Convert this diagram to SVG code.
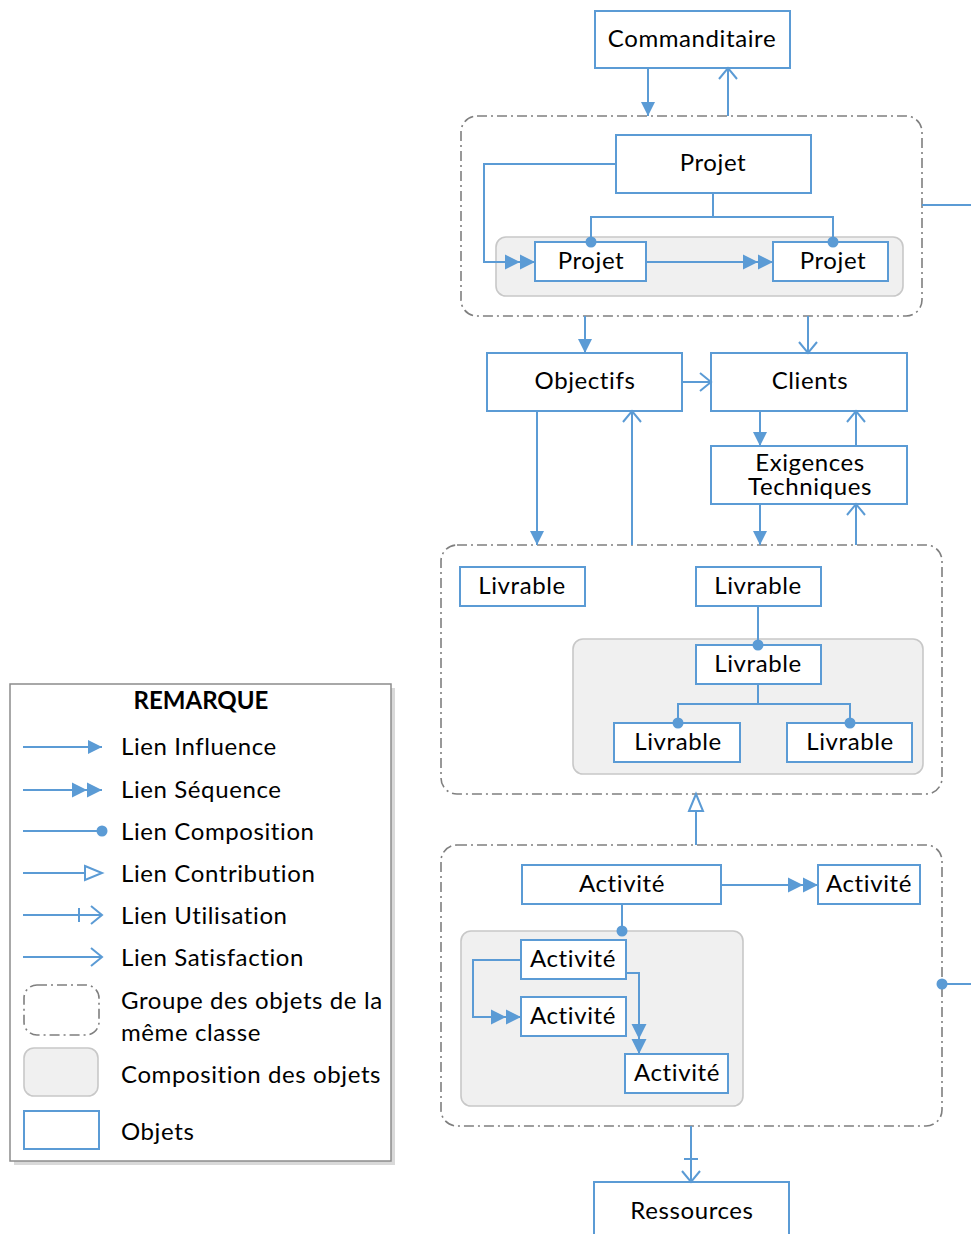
<svg xmlns="http://www.w3.org/2000/svg" width="971" height="1234" viewBox="0 0 971 1234">
<style>
.obj{fill:#fff;stroke:#5b9bd5;stroke-width:2}
.grp{fill:none;stroke:#7f7f7f;stroke-width:1.6;stroke-dasharray:10 4 2 4}
.cmp{fill:#f0f0f0;stroke:#c8c8c8;stroke-width:1.6}
.ln{fill:none;stroke:#5b9bd5;stroke-width:2}
text{font-family:Lato,"Open Sans",sans-serif;font-size:24px;letter-spacing:0.6px;fill:#000}
.c{text-anchor:middle}
</style>
<defs>
<marker id="tri" markerUnits="userSpaceOnUse" markerWidth="16" markerHeight="16" refX="14" refY="7" orient="auto" overflow="visible"><path d="M0,0 L14,7 L0,14 z" fill="#5b9bd5"/></marker>
<marker id="seq" markerUnits="userSpaceOnUse" markerWidth="30" markerHeight="16" refX="30" refY="7.5" orient="auto" overflow="visible"><path d="M0,0 L15,7.5 L0,15 z M15,0 L30,7.5 L15,15 z" fill="#5b9bd5"/></marker>
<marker id="dot" markerUnits="userSpaceOnUse" markerWidth="12" markerHeight="12" refX="6" refY="6" orient="auto" overflow="visible"><circle cx="6" cy="6" r="5.5" fill="#5b9bd5"/></marker>
<marker id="otri" markerUnits="userSpaceOnUse" markerWidth="20" markerHeight="16" refX="18" refY="7" orient="auto" overflow="visible"><path d="M1,0 L18,7 L1,14 z" fill="#fff" stroke="#5b9bd5" stroke-width="2"/></marker>
<marker id="vee" markerUnits="userSpaceOnUse" markerWidth="14" markerHeight="20" refX="11" refY="9" orient="auto" overflow="visible"><path d="M0,0 L11,9 L0,18" fill="none" stroke="#5b9bd5" stroke-width="2"/></marker>
<marker id="use" markerUnits="userSpaceOnUse" markerWidth="30" markerHeight="20" refX="24" refY="9" orient="auto" overflow="visible"><path d="M13,0 L24,9 L13,18 M1,2 L1,16" fill="none" stroke="#5b9bd5" stroke-width="2"/></marker>
</defs>

<g id="groups">
<rect id="grp-projet" class="grp" x="461" y="116" width="461" height="200" rx="16"/>
<rect id="cmp-projet" class="cmp" x="496" y="237" width="407" height="59" rx="10"/>
<rect id="grp-livrable" class="grp" x="441" y="545" width="501" height="249" rx="16"/>
<rect id="cmp-livrable" class="cmp" x="573" y="639" width="350" height="135" rx="10"/>
<rect id="grp-activite" class="grp" x="441" y="845" width="501" height="281" rx="16"/>
<rect id="cmp-activite" class="cmp" x="461" y="931" width="282" height="175" rx="10"/>
</g>

<g id="commanditaire"><rect class="obj" x="595" y="11" width="195" height="57"/><text class="c" x="692" y="47">Commanditaire</text></g>
<g id="projet"><rect class="obj" x="616" y="135" width="195" height="58"/><text class="c" x="713" y="171">Projet</text></g>
<g id="projet-a"><rect class="obj" x="535" y="242" width="111" height="39"/><text class="c" x="591" y="269">Projet</text></g>
<g id="projet-b"><rect class="obj" x="773" y="242" width="115" height="39"/><text class="c" x="833" y="269">Projet</text></g>
<g id="objectifs"><rect class="obj" x="487" y="353" width="195" height="58"/><text class="c" x="585" y="389">Objectifs</text></g>
<g id="clients"><rect class="obj" x="711" y="353" width="196" height="58"/><text class="c" x="810" y="389">Clients</text></g>
<g id="exigences"><rect class="obj" x="711" y="446" width="196" height="58"/><text class="c" x="810" y="471">Exigences<tspan x="810" dy="24">Techniques</tspan></text></g>
<g id="livrable-1"><rect class="obj" x="460" y="567" width="125" height="39"/><text class="c" x="522" y="594">Livrable</text></g>
<g id="livrable-2"><rect class="obj" x="696" y="567" width="125" height="39"/><text class="c" x="758" y="594">Livrable</text></g>
<g id="livrable-3"><rect class="obj" x="696" y="645" width="125" height="39"/><text class="c" x="758" y="672">Livrable</text></g>
<g id="livrable-4"><rect class="obj" x="614" y="723" width="126" height="39"/><text class="c" x="678" y="750">Livrable</text></g>
<g id="livrable-5"><rect class="obj" x="787" y="723" width="125" height="39"/><text class="c" x="850" y="750">Livrable</text></g>
<g id="activite-1"><rect class="obj" x="522" y="865" width="199" height="39"/><text class="c" x="622" y="892">Activité</text></g>
<g id="activite-2"><rect class="obj" x="818" y="865" width="102" height="39"/><text class="c" x="869" y="892">Activité</text></g>
<g id="activite-3"><rect class="obj" x="521" y="940" width="105" height="39"/><text class="c" x="573" y="967">Activité</text></g>
<g id="activite-4"><rect class="obj" x="521" y="997" width="105" height="39"/><text class="c" x="573" y="1024">Activité</text></g>
<g id="activite-5"><rect class="obj" x="625" y="1054" width="103" height="39"/><text class="c" x="677" y="1081">Activité</text></g>
<g id="ressources"><rect class="obj" x="594" y="1182" width="195" height="60"/><text class="c" x="692" y="1219">Ressources</text></g>

<g id="connectors">
<line class="ln" x1="648" y1="68" x2="648" y2="116" marker-end="url(#tri)"/>
<line class="ln" x1="728" y1="116" x2="728" y2="68" marker-end="url(#vee)"/>
<line class="ln" x1="922" y1="205" x2="971" y2="205"/>
<polyline class="ln" points="616,164 484,164 484,262 535,262" marker-end="url(#seq)"/>
<polyline class="ln" points="713,193 713,217 591,217 591,242" marker-end="url(#dot)"/>
<polyline class="ln" points="713,217 833,217 833,242" marker-end="url(#dot)"/>
<line class="ln" x1="646" y1="262" x2="773" y2="262" marker-end="url(#seq)"/>
<line class="ln" x1="585" y1="316" x2="585" y2="353" marker-end="url(#tri)"/>
<line class="ln" x1="808" y1="316" x2="808" y2="353" marker-end="url(#vee)"/>
<line class="ln" x1="682" y1="382" x2="711" y2="382" marker-end="url(#vee)"/>
<line class="ln" x1="760" y1="411" x2="760" y2="446" marker-end="url(#tri)"/>
<line class="ln" x1="856" y1="446" x2="856" y2="411" marker-end="url(#vee)"/>
<line class="ln" x1="760" y1="504" x2="760" y2="545" marker-end="url(#tri)"/>
<line class="ln" x1="856" y1="545" x2="856" y2="504" marker-end="url(#vee)"/>
<line class="ln" x1="537" y1="411" x2="537" y2="545" marker-end="url(#tri)"/>
<line class="ln" x1="632" y1="545" x2="632" y2="411" marker-end="url(#vee)"/>
<line class="ln" x1="758" y1="606" x2="758" y2="645" marker-end="url(#dot)"/>
<polyline class="ln" points="758,684 758,704 678,704 678,723" marker-end="url(#dot)"/>
<polyline class="ln" points="758,704 850,704 850,723" marker-end="url(#dot)"/>
<line class="ln" x1="696" y1="845" x2="696" y2="794" marker-end="url(#otri)"/>
<line class="ln" x1="721" y1="885" x2="818" y2="885" marker-end="url(#seq)"/>
<line class="ln" x1="622" y1="904" x2="622" y2="931" marker-end="url(#dot)"/>
<polyline class="ln" points="521,960 473,960 473,1017 521,1017" marker-end="url(#seq)"/>
<polyline class="ln" points="626,973 639,973 639,1054" marker-end="url(#seq)"/>
<line class="ln" x1="942" y1="984" x2="971" y2="984"/>
<circle cx="942" cy="984" r="5.5" fill="#5b9bd5"/>
<line class="ln" x1="691" y1="1126" x2="691" y2="1182" marker-end="url(#use)"/>
</g>

<g id="legend">
<rect x="14" y="688" width="381" height="477" fill="#bfbfbf" opacity="0.6"/>
<rect x="10" y="684" width="381" height="477" fill="#fff" stroke="#8c8c8c" stroke-width="1.5"/>
<text class="c" x="201" y="709" font-weight="bold" style="letter-spacing:0">REMARQUE</text>
<line class="ln" x1="23" y1="747" x2="102" y2="747" marker-end="url(#tri)"/>
<text x="121" y="755">Lien Influence</text>
<line class="ln" x1="23" y1="790" x2="102" y2="790" marker-end="url(#seq)"/>
<text x="121" y="798">Lien Séquence</text>
<line class="ln" x1="23" y1="831" x2="102" y2="831" marker-end="url(#dot)"/>
<text x="121" y="840">Lien Composition</text>
<line class="ln" x1="23" y1="873" x2="102" y2="873" marker-end="url(#otri)"/>
<text x="121" y="882">Lien Contribution</text>
<line class="ln" x1="23" y1="915" x2="102" y2="915" marker-end="url(#use)"/>
<text x="121" y="924">Lien Utilisation</text>
<line class="ln" x1="23" y1="957" x2="102" y2="957" marker-end="url(#vee)"/>
<text x="121" y="966">Lien Satisfaction</text>
<rect class="grp" x="24" y="985" width="75" height="50" rx="13"/>
<text x="121" y="1009">Groupe des objets de la</text>
<text x="121" y="1041">même classe</text>
<rect class="cmp" x="24" y="1048" width="74" height="48" rx="10"/>
<text x="121" y="1083">Composition des objets</text>
<rect class="obj" x="24" y="1111" width="75" height="38"/>
<text x="121" y="1140">Objets</text>
</g>
</svg>
